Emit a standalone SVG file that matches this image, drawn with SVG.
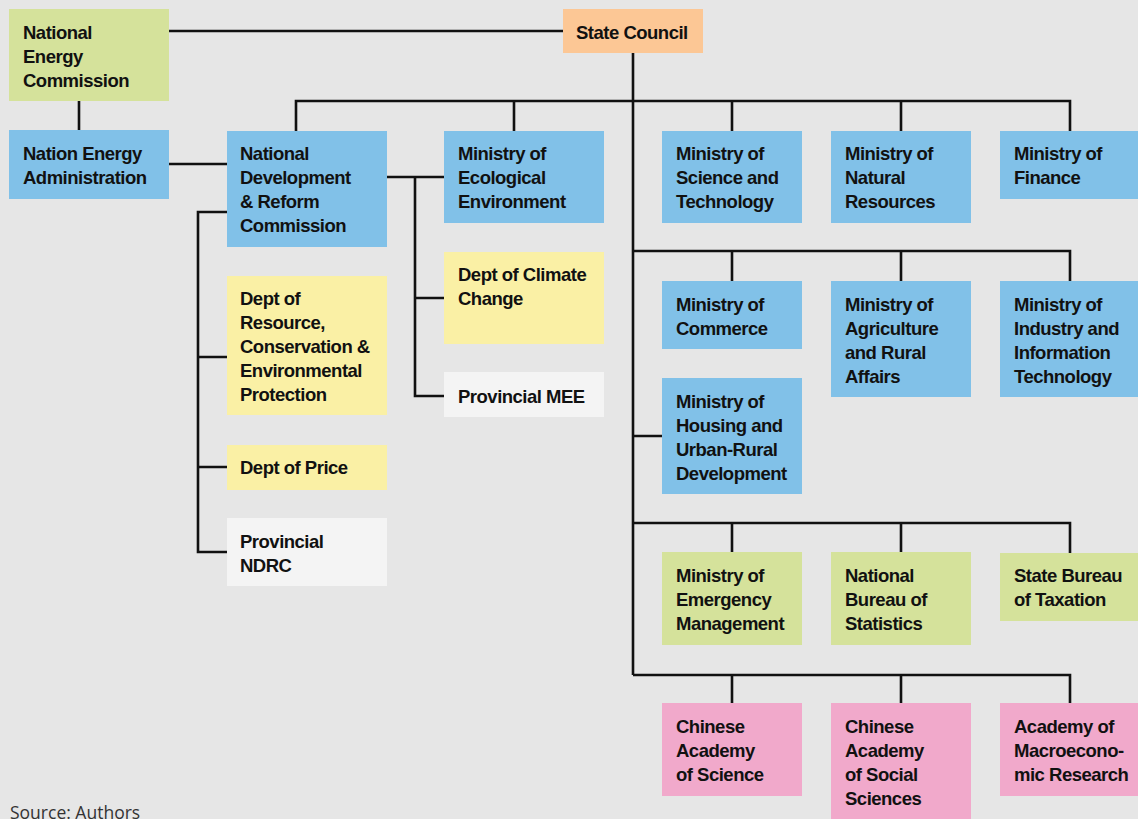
<svg xmlns="http://www.w3.org/2000/svg" width="1138" height="819" viewBox="0 0 1138 819">
<style>
.t{font-family:"Liberation Sans",Arial,sans-serif;font-weight:bold;font-size:18.5px;letter-spacing:-0.5px;fill:#111}
.c{stroke:#111;stroke-width:2.6;fill:none}
.g{fill:#d5e29b}.o{fill:#fcc795}.b{fill:#81c1e8}.y{fill:#faf0a5}.w{fill:#f4f4f4}.p{fill:#f1a9cb}
</style>
<rect width="1138" height="819" fill="#e6e6e6"/>
<g id="connectors" class="c">
<path d="M169 31H563M79 101V130M169 164H227"/>
<path d="M633 53V675M296 131V101H1070V131M514 101V131M732 101V131M901 101V131"/>
<path d="M633 251H1070V281M732 251V281M901 251V281M633 436H662"/>
<path d="M633 523H1070V553M732 523V552M901 523V552"/>
<path d="M633 675H1070V703M732 675V703M901 675V703"/>
<path d="M387 177H444M415 177V396H444M415 298H444"/>
<path d="M227 212H198V552H227M198 357H227M198 467H227"/>
</g>
<g id="nec"><rect class="g" x="9" y="9" width="160" height="92"/><text class="t" x="23" y="39">National</text><text class="t" x="23" y="63">Energy</text><text class="t" x="23" y="87">Commission</text></g>
<g id="state-council"><rect class="o" x="563" y="9" width="140" height="44"/><text class="t" x="576" y="39">State Council</text></g>
<g id="nea"><rect class="b" x="9" y="130" width="160" height="69"/><text class="t" x="23" y="160">Nation Energy</text><text class="t" x="23" y="184">Administration</text></g>
<g id="ndrc"><rect class="b" x="227" y="131" width="160" height="116"/><text class="t" x="240" y="160">National</text><text class="t" x="240" y="184">Development</text><text class="t" x="240" y="208">&amp; Reform</text><text class="t" x="240" y="232">Commission</text></g>
<g id="mee"><rect class="b" x="444" y="131" width="160" height="92"/><text class="t" x="458" y="160">Ministry of</text><text class="t" x="458" y="184">Ecological</text><text class="t" x="458" y="208">Environment</text></g>
<g id="most"><rect class="b" x="662" y="131" width="140" height="92"/><text class="t" x="676" y="160">Ministry of</text><text class="t" x="676" y="184">Science and</text><text class="t" x="676" y="208">Technology</text></g>
<g id="mnr"><rect class="b" x="831" y="131" width="140" height="92"/><text class="t" x="845" y="160">Ministry of</text><text class="t" x="845" y="184">Natural</text><text class="t" x="845" y="208">Resources</text></g>
<g id="mof"><rect class="b" x="1000" y="131" width="138" height="68"/><text class="t" x="1014" y="160">Ministry of</text><text class="t" x="1014" y="184">Finance</text></g>
<g id="dcc"><rect class="y" x="444" y="252" width="160" height="92"/><text class="t" x="458" y="281">Dept of Climate</text><text class="t" x="458" y="305">Change</text></g>
<g id="pmee"><rect class="w" x="444" y="372" width="160" height="45"/><text class="t" x="458" y="403">Provincial MEE</text></g>
<g id="drcep"><rect class="y" x="227" y="276" width="160" height="139"/><text class="t" x="240" y="305">Dept of</text><text class="t" x="240" y="329">Resource,</text><text class="t" x="240" y="353">Conservation &amp;</text><text class="t" x="240" y="377">Environmental</text><text class="t" x="240" y="401">Protection</text></g>
<g id="dprice"><rect class="y" x="227" y="445" width="160" height="45"/><text class="t" x="240" y="474">Dept of Price</text></g>
<g id="pndrc"><rect class="w" x="227" y="518" width="160" height="68"/><text class="t" x="240" y="548">Provincial</text><text class="t" x="240" y="572">NDRC</text></g>
<g id="mofcom"><rect class="b" x="662" y="281" width="140" height="68"/><text class="t" x="676" y="311">Ministry of</text><text class="t" x="676" y="335">Commerce</text></g>
<g id="mara"><rect class="b" x="831" y="281" width="140" height="116"/><text class="t" x="845" y="311">Ministry of</text><text class="t" x="845" y="335">Agriculture</text><text class="t" x="845" y="359">and Rural</text><text class="t" x="845" y="383">Affairs</text></g>
<g id="miit"><rect class="b" x="1000" y="281" width="138" height="116"/><text class="t" x="1014" y="311">Ministry of</text><text class="t" x="1014" y="335">Industry and</text><text class="t" x="1014" y="359">Information</text><text class="t" x="1014" y="383">Technology</text></g>
<g id="mohurd"><rect class="b" x="662" y="378" width="140" height="116"/><text class="t" x="676" y="408">Ministry of</text><text class="t" x="676" y="432">Housing and</text><text class="t" x="676" y="456">Urban-Rural</text><text class="t" x="676" y="480">Development</text></g>
<g id="mem"><rect class="g" x="662" y="552" width="140" height="93"/><text class="t" x="676" y="582">Ministry of</text><text class="t" x="676" y="606">Emergency</text><text class="t" x="676" y="630">Management</text></g>
<g id="nbs"><rect class="g" x="831" y="552" width="140" height="93"/><text class="t" x="845" y="582">National</text><text class="t" x="845" y="606">Bureau of</text><text class="t" x="845" y="630">Statistics</text></g>
<g id="sbt"><rect class="g" x="1000" y="553" width="138" height="68"/><text class="t" x="1014" y="582">State Bureau</text><text class="t" x="1014" y="606">of Taxation</text></g>
<g id="cas"><rect class="p" x="662" y="703" width="140" height="93"/><text class="t" x="676" y="733">Chinese</text><text class="t" x="676" y="757">Academy</text><text class="t" x="676" y="781">of Science</text></g>
<g id="cass"><rect class="p" x="831" y="703" width="140" height="116"/><text class="t" x="845" y="733">Chinese</text><text class="t" x="845" y="757">Academy</text><text class="t" x="845" y="781">of Social</text><text class="t" x="845" y="805">Sciences</text></g>
<g id="amr"><rect class="p" x="1000" y="703" width="138" height="93"/><text class="t" x="1014" y="733">Academy of</text><text class="t" x="1014" y="757">Macroecono-</text><text class="t" x="1014" y="781">mic Research</text></g>
<text x="10" y="819" font-family="'Open Sans','Liberation Sans',sans-serif" font-size="17.5" fill="#333">Source: Authors</text>
</svg>
